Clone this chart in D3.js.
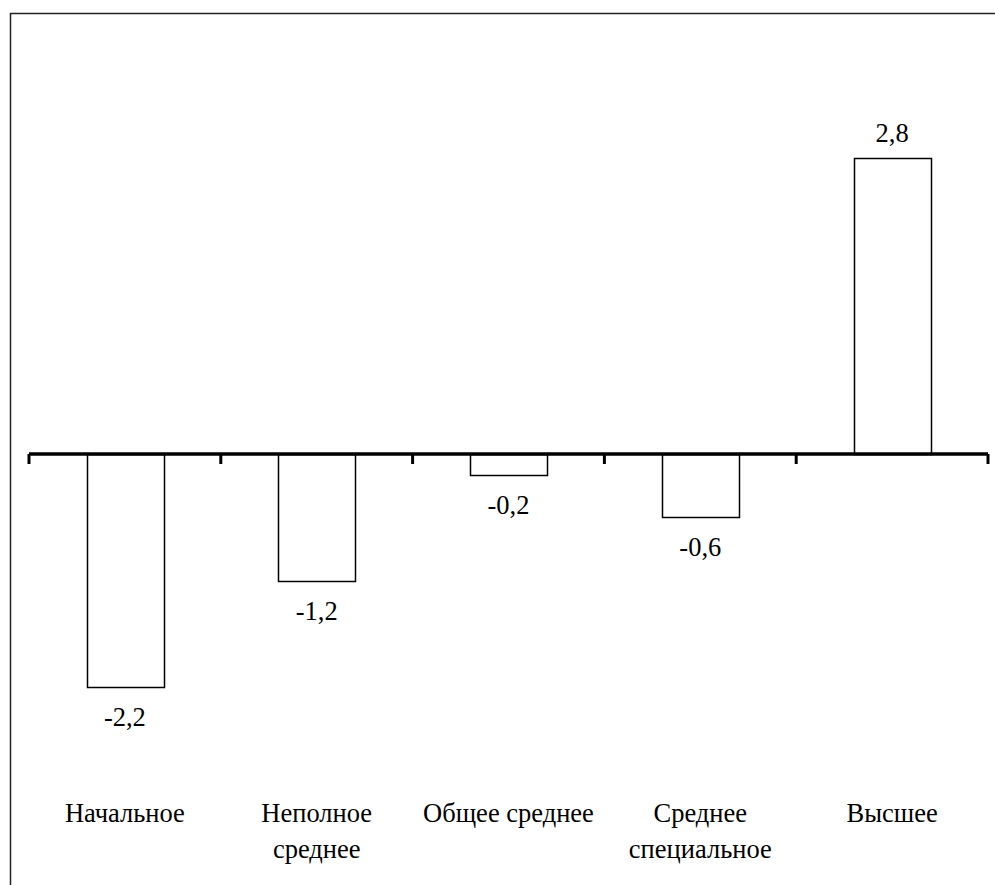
<!DOCTYPE html>
<html><head><meta charset="utf-8">
<script src="https://cdn.jsdelivr.net/npm/d3@7"></script>
<style>
@font-face { font-family: "ChartSerif"; src: local("Liberation Serif"), local("LiberationSerif"), local("Liberation Serif Regular"), local("LiberationSerif-Regular"); }
svg text.lbl { font-family: "Liberation Serif", "ChartSerif", serif !important; }
</style>
</head>
<body style="margin:0">
<svg id="chart" width="995" height="885"></svg>
<script>
const categories = [["Начальное"], ["Неполное","среднее"], ["Общее среднее"], ["Среднее","специальное"], ["Высшее"]];
const values = [-2.2, -1.2, -0.2, -0.6, 2.8];
const valueLabels = ["-2,2", "-1,2", "-0,2", "-0,6", "2,8"];

const svg = d3.select("#chart");
const FONT_STYLE = "font-family: 'Liberation Serif', 'ChartSerif', serif !important; font-size: 26.5px;";

// outer frame
svg.append("rect").attr("x", 10.5).attr("y", 13.5).attr("width", 1000).attr("height", 1000)
  .attr("fill", "none").attr("stroke", "#222").attr("stroke-width", 1.5);

const x = d3.scaleBand().domain(d3.range(values.length)).range([29, 988]).paddingInner(0.6).paddingOuter(0.3);
const y = d3.scaleLinear().domain([0, 2.8]).range([454, 158]);

// bars
svg.selectAll("rect.bar").data(values).enter().append("rect")
  .attr("class", "bar")
  .attr("x", (d, i) => Math.round(x(i)) + 0.5)
  .attr("y", d => Math.round(y(Math.max(0, d))) + 0.5)
  .attr("width", Math.round(x.bandwidth()))
  .attr("height", d => Math.abs(Math.round(y(d)) - Math.round(y(0))))
  .attr("fill", "#fff").attr("stroke", "#000").attr("stroke-width", 1.5);

// axis line
const step = x.step();
const x0 = 29, x1 = 988;
svg.append("line").attr("x1", x0).attr("x2", x1).attr("y1", y(0)).attr("y2", y(0))
  .attr("stroke", "#000").attr("stroke-width", 3.5);
const tickPos = d3.range(values.length + 1).map(i => x0 + i * step);
svg.selectAll("line.tk").data(tickPos).enter().append("line")
  .attr("class", "tk")
  .attr("x1", d => d).attr("x2", d => d)
  .attr("y1", y(0)).attr("y2", y(0) + 10)
  .attr("stroke", "#000").attr("stroke-width", 3);

// value labels
values.forEach((d, i) => {
  svg.append("text")
    .attr("class", "lbl")
    .attr("x", x(i) + x.bandwidth() / 2)
    .attr("y", d >= 0 ? y(d) - 16 : y(d) + 39)
    .attr("text-anchor", "middle")
    .attr("style", FONT_STYLE)
    .text(valueLabels[i]);
});

// category labels
categories.forEach((lines, i) => {
  const cx = x(i) + x.bandwidth() / 2;
  lines.forEach((line, j) => {
    svg.append("text")
      .attr("class", "lbl")
      .attr("x", cx)
      .attr("y", 822 + j * 36)
      .attr("text-anchor", "middle")
      .attr("style", FONT_STYLE)
      .text(line);
  });
});
</script>
</body></html>
